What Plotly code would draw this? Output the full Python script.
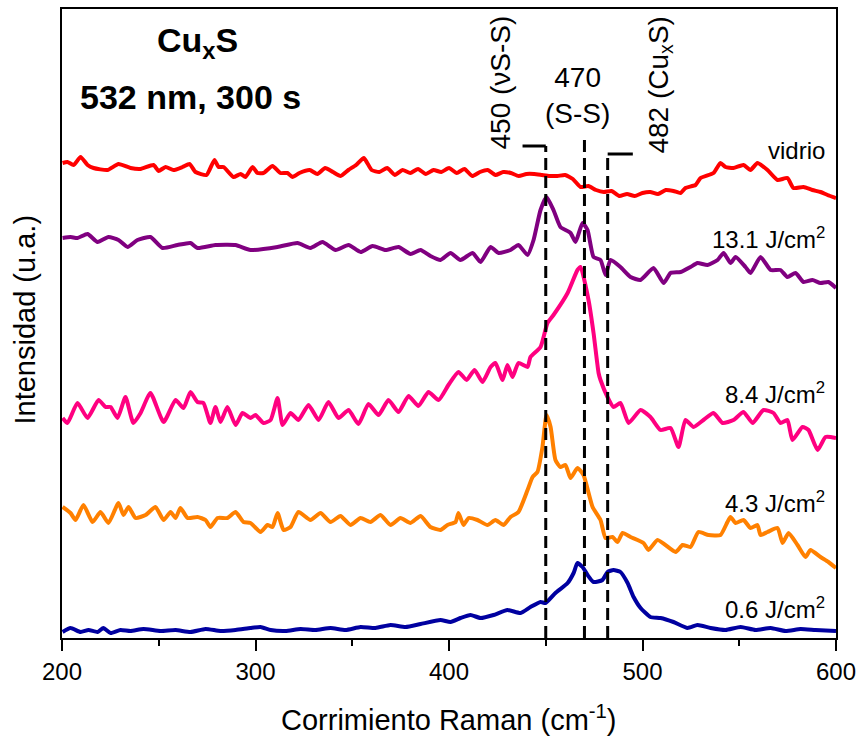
import plotly.graph_objects as go

# Raman shift (cm^-1) and stacked intensities (a.u.) for each spectrum
vidrio_x = [200.3, 202.8, 206.0, 209.6, 213.2, 216.3, 223.5, 229.2, 235.4, 240.6, 247.3, 249.9, 253.5, 257.6, 262.3,
            265.9, 269.0, 274.7, 278.8, 280.9, 283.5, 288.6, 292.3, 294.8, 298.5, 301.0, 304.1, 308.8, 312.9, 316.5,
            319.1, 322.7,
            328, 332, 336, 340, 344, 348, 352, 356, 360, 364, 368, 372, 376, 380, 384, 388, 392, 396, 400, 404, 408,
            412, 416, 420, 424, 428, 432, 436, 440, 444, 448, 452, 456, 460, 464, 468, 472, 476, 480, 484, 488, 492,
            496, 500, 504, 508, 512, 516,
            519.7, 522.2, 527.4, 530.0, 536.7, 540.3, 542.9, 547.0, 552.2, 555.8, 559.4, 564.6, 569.8, 574.9, 578.0,
            583.2, 587.8, 592.0, 595.6, 600]
vidrio_y = [475, 476, 473, 481, 473, 470, 468, 474, 470, 469, 473, 467, 471, 468, 471,
            474, 466, 463, 478, 471, 471, 461, 464, 461, 471, 465, 465, 472, 465, 465,
            461, 465,
            468, 464, 470, 466, 462, 468, 473, 480, 468, 466, 470, 463, 468, 465, 469, 464, 468, 466, 470, 465, 469,
            462, 466, 468, 463, 466, 465, 462, 464, 464, 463, 462, 462, 463, 459, 451, 452, 448, 446, 447, 442, 444,
            442, 445, 446, 444, 448, 447,
            445, 450, 453, 460, 465, 475, 471, 470, 473, 468, 475, 468, 458, 460, 450,
            451, 448, 446, 443, 440]

f131_x = [200.3, 204.4, 208.0, 213.2, 218.4, 224.0, 229.2, 233.9, 239.0, 245.7, 251.9, 259.7, 266.4, 270.0, 279.3,
          289.7, 297.4, 311.4, 321.7, 328.4, 334.6, 341.4, 348.1, 354.3, 360.5, 367.2, 373.9, 380.1, 385.3, 390.4,
          395.6, 400.8, 405.9, 412.2, 416.3, 421.5, 425.6, 431.8, 435.9, 440.6, 443.7, 447.3, 450.4, 454.0, 457.6,
          462.8, 465.4, 469.0, 471.6, 474.7, 478.3, 480.9, 483.5, 488.6, 493.8, 499.0, 505.7, 510.9, 514.5, 519.7,
          524.8, 528.4, 533.6, 538.8, 541.9, 545.5, 548.1, 553.2, 555.8, 561.0, 566.2, 571.3, 574.9, 579.1, 583.2,
          587.8, 592.0, 596.1, 600]
f131_y = [400, 401, 400, 404, 396, 401, 398, 391, 398, 401, 390, 393, 395, 390, 393,
          393, 388, 391, 395, 390, 396, 388, 393, 386, 392, 388, 391, 384, 388, 382,
          378, 385, 378, 385, 376, 391, 385, 388, 393, 383, 398, 428, 441, 428, 411,
          405, 396, 415, 408, 381, 378, 363, 378, 371, 361, 358, 370, 355, 365, 366,
          371, 375, 373, 378, 385, 375, 381, 371, 365, 381, 368, 368, 361, 365, 356,
          358, 355, 356, 350]

f84_x = [200.3, 202.8, 208.0, 213.2, 218.9, 222.5, 225.1, 228.7, 232.8, 236.9, 240.6, 245.7, 252.5, 258.7, 262.8,
         266.4, 270.0, 273.1, 276.7, 279.3, 281.9, 285.5, 289.7, 293.3, 297.4, 300.0, 304.1, 307.8, 311.4, 314.0,
         318.1, 322.2, 327.4, 332.6, 337.7, 342.9, 348.1, 353.2, 358.4, 363.6, 368.7, 373.9, 379.1, 384.2, 389.4,
         394.6, 399.7, 404.9, 409.1, 413.2, 417.3, 421.5, 424.0, 427.7, 430.2, 432.8, 435.9, 440.6, 442.1, 447.3,
         450.9, 454.0, 461.3, 466.4, 468.0, 472.1, 474.7, 477.3, 478.3, 481.9, 485.0, 488.6, 492.8, 499.0, 504.1,
         509.3, 514.5, 518.6, 522.2, 526.4, 531.5, 536.7, 541.4, 547.0, 552.2, 556.9, 562.5, 567.7, 571.3, 574.9,
         577.5, 582.7, 585.8, 590.5, 594.6, 600]
f84_y = [220, 215, 235, 220, 238, 231, 231, 220, 241, 215, 225, 245, 216, 238, 230,
         246, 236, 235, 215, 231, 216, 231, 213, 225, 220, 223, 215, 218, 240, 213,
         225, 218, 233, 218, 236, 220, 228, 214, 234, 223, 238, 226, 242, 232, 246,
         238, 253, 266, 258, 268, 256, 271, 275, 258, 273, 261, 275, 271, 281, 291,
         315, 323, 345, 368, 371, 338, 305, 265, 258, 241, 231, 235, 215, 228, 221,
         208, 210, 191, 218, 211, 218, 225, 215, 218, 226, 215, 228, 225, 215, 218,
         198, 211, 208, 188, 201, 200]

f43_x = [200.3, 204.4, 207.0, 211.1, 215.8, 219.9, 224.0, 229.2, 231.8, 234.4, 238.0, 243.2, 248.3, 252.5, 256.1,
         258.7, 261.2, 264.9, 270.0, 274.2, 276.7, 280.4, 285.5, 289.7, 293.8, 297.4, 302.6, 306.2, 308.8, 311.4,
         314.5, 318.1, 322.2,
         328.4, 333.6, 338.8, 343.9, 349.1, 354.3, 359.4, 364.6, 369.8, 374.9, 380.1, 385.3, 390.4, 395.6, 399.2,
         403.4, 404.9, 407.5, 410.1, 414.7, 419.9, 424.0, 428.2, 431.8, 435.9, 440.6, 443.2, 445.7, 448.3, 450.4,
         452.5, 455.0, 457.6, 460.2, 462.8, 466.4, 469.5, 474.2, 478.3, 480.9, 484.5, 487.1, 489.7, 493.8, 500.5,
         503.1, 507.8, 517.1, 520.7, 524.8, 528.9, 534.1, 540.3, 543.9, 545.5, 548.1, 552.2, 555.8, 559.4, 561.0,
         564.6, 569.8, 572.4, 575.5, 580.1, 584.2, 586.8, 592.0, 596.1, 600]
f43_y = [131, 125, 118, 133, 116, 126, 115, 135, 123, 131, 120, 123, 131, 118, 126,
         120, 130, 120, 121, 118, 111, 120, 120, 126, 116, 115, 106, 113, 111, 125,
         108, 111, 126,
         118, 125, 116, 122, 113, 120, 116, 123, 113, 120, 115, 122, 111, 108, 113,
         116, 125, 113, 120, 118, 113, 118, 113, 121, 126, 148, 161, 166, 191, 223,
         211, 178, 171, 173, 160, 170, 163, 131, 118, 100, 101, 96, 105, 101, 95,
         88, 98, 86, 93, 91, 106, 103, 103, 116, 121, 115, 118, 110, 113, 103,
         106, 110, 95, 105, 93, 81, 88, 81, 76, 70]

f06_x = [200.3, 204.4, 209.6, 213.7, 218.4, 221.4, 225.1, 230.2, 235.4, 242.1, 250.9, 258.7, 266.4, 274.2, 281.9,
         289.7, 297.4, 302.6, 307.8, 315.5, 323.3, 331.0, 338.8, 346.5, 354.3, 362.0, 369.8, 377.5, 385.3, 395.6,
         400.8, 405.9, 411.1, 416.3, 423.0, 430.2, 437.0, 442.1, 447.3, 449.9, 455.0, 461.3, 464.4, 466.4, 469.0,
         471.6, 474.7, 479.3, 481.9, 485.0, 488.6, 492.3, 495.4, 499.0, 504.1, 509.3, 516.0, 523.3, 528.4, 535.2,
         542.9, 550.7, 558.4, 566.2, 573.9, 581.7, 589.4, 600]
f06_y = [6, 10, 6, 8, 6, 10, 5, 8, 7, 9, 7, 8, 6, 9, 7,
         8, 10, 11, 8, 7, 9, 8, 10, 8, 11, 10, 13, 11, 14, 18,
         16, 20, 23, 20, 23, 28, 25, 31, 36, 35, 45, 55, 65, 75, 71,
         63, 56, 58, 66, 68, 66, 55, 41, 30, 21, 20, 16, 10, 13, 10,
         8, 11, 8, 10, 7, 9, 8, 7]

series_names = ["vidrio", "13.1 J/cm<sup>2</sup>", "8.4 J/cm<sup>2</sup>", "4.3 J/cm<sup>2</sup>", "0.6 J/cm<sup>2</sup>"]
series_x = [vidrio_x, f131_x, f84_x, f43_x, f06_x]
series_y = [vidrio_y, f131_y, f84_y, f43_y, f06_y]
series_colors = ["#FF0000", "#800080", "#FF0080", "#FF8000", "#0000A0"]
label_y = [488, 400, 245, 136, 30]

# Band positions marked with dashed guides
band_pos = [450, 470, 482]
band_top = [492, 501, 484]
band_text = ["450 (νS-S)", "470<br>(S-S)", "482 (Cu<sub>x</sub>S)"]

FONT = "Liberation Sans, Arial, sans-serif"

fig = go.Figure()
for xs, ys, col, name in zip(series_x, series_y, series_colors, series_names):
    fig.add_trace(go.Scatter(x=xs, y=ys, mode="lines", name=name,
                             line=dict(color=col, width=4, shape="spline", smoothing=0.5),
                             showlegend=False, hoverinfo="skip"))

# spectrum labels at the right edge
for name, ly in zip(series_names, label_y):
    fig.add_annotation(x=595.6, y=ly, text=name, showarrow=False, xanchor="right", yanchor="middle",
                       font=dict(family=FONT, size=24, color="black"))

# dashed band guides with bracket ends
for pos, top in zip(band_pos, band_top):
    fig.add_shape(type="line", x0=pos, x1=pos, y0=0, y1=top, xref="x", yref="y",
                  line=dict(color="black", width=3, dash="12px,6px"))
fig.add_shape(type="line", x0=band_pos[0] - 12, x1=band_pos[0], y0=band_top[0], y1=band_top[0],
              line=dict(color="black", width=3))
fig.add_shape(type="line", x0=band_pos[2], x1=band_pos[2] + 13, y0=band_top[2], y1=band_top[2],
              line=dict(color="black", width=3))

fig.add_annotation(x=426.1, y=555, text=band_text[0], showarrow=False, textangle=-90,
                   xanchor="center", yanchor="middle", font=dict(family=FONT, size=28, color="black"))
fig.add_annotation(x=466.4, y=543, text=band_text[1], showarrow=False,
                   xanchor="center", yanchor="middle", font=dict(family=FONT, size=28, color="black"))
fig.add_annotation(x=508.8, y=553, text=band_text[2], showarrow=False, textangle=-90,
                   xanchor="center", yanchor="middle", font=dict(family=FONT, size=28, color="black"))

# sample / conditions
fig.add_annotation(x=0.175, y=0.9475, xref="paper", yref="paper", text="<b>Cu<sub>x</sub>S</b>",
                   xanchor="center", yanchor="middle", showarrow=False,
                   font=dict(family=FONT, size=34, color="black"))
fig.add_annotation(x=0.166, y=0.860, xref="paper", yref="paper", text="<b>532 nm, 300 s</b>",
                   xanchor="center", yanchor="middle", showarrow=False,
                   font=dict(family=FONT, size=34, color="black"))

# axis titles
fig.add_annotation(x=0.5, y=-0.127, xref="paper", yref="paper", text="Corrimiento Raman (cm<sup>-1</sup>)",
                   xanchor="center", yanchor="middle", showarrow=False,
                   font=dict(family=FONT, size=29, color="black"))
fig.add_annotation(x=-0.0484, y=0.5056, xref="paper", yref="paper", text="Intensidad (u.a.)",
                   xanchor="center", yanchor="middle", textangle=-90, showarrow=False,
                   font=dict(family=FONT, size=29, color="black"))

fig.update_xaxes(range=[200, 600], tickvals=[200, 300, 400, 500, 600], ticks="outside", ticklen=11,
                 tickwidth=2, tickcolor="black", showline=True, linewidth=2, linecolor="black", mirror=True,
                 showgrid=False, zeroline=False, automargin=False,
                 tickfont=dict(family=FONT, size=24, color="black"),
                 minor=dict(tickvals=[250, 350, 450, 550], ticks="outside", ticklen=6, tickwidth=2,
                            tickcolor="black"))
fig.update_yaxes(range=[0, 629], showticklabels=False, ticks="", showline=True, linewidth=2,
                 linecolor="black", mirror=True, showgrid=False, zeroline=False, automargin=False)

fig.update_layout(width=859, height=738, margin=dict(l=62, r=23, t=9, b=100),
                  plot_bgcolor="white", paper_bgcolor="white", showlegend=False)

fig.write_html("out.html")
